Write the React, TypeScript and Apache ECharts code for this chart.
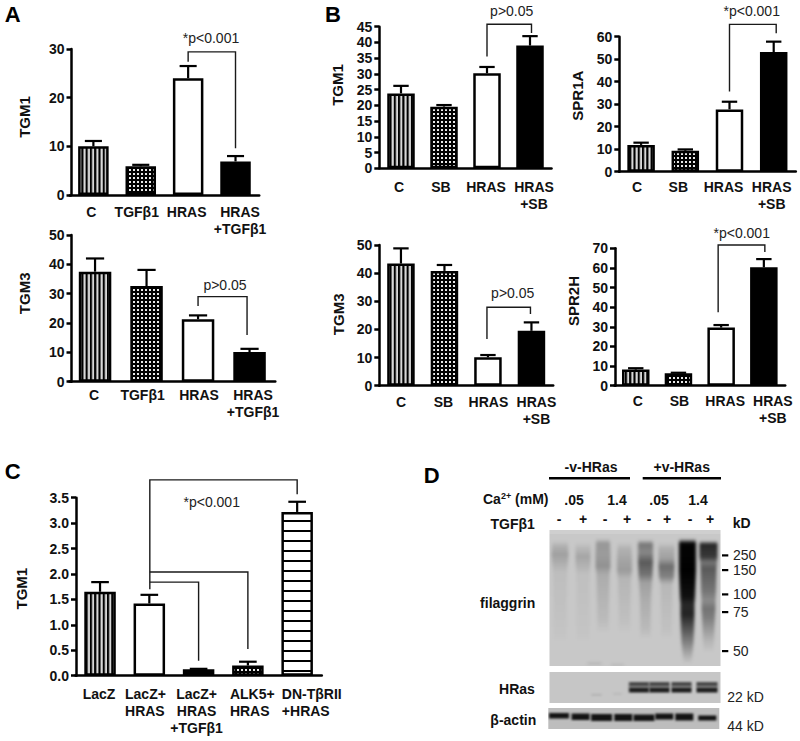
import React, { useEffect, useRef } from "react";
import * as echarts from "echarts";

// ---- data ----
const catsATop = ["C", "TGFβ1", "HRAS", "HRAS\n+TGFβ1"];
const catsB = ["C", "SB", "HRAS", "HRAS\n+SB"];
const catsC = ["LacZ", "LacZ+\nHRAS", "LacZ+\nHRAS\n+TGFβ1", "ALK5+\nHRAS", "DN-TβRII\n+HRAS"];

const aTgm1 = [10, 5.9, 24, 6.9];
const aTgm1Err = [11.1, 6.2, 26.5, 8];
const aTgm3 = [37.5, 32.6, 21.3, 10.1];
const aTgm3Err = [42, 38.1, 22.6, 11.2];
const bTgm1 = [23.8, 19.6, 30.2, 39];
const bTgm1Err = [26.2, 20.1, 32.2, 42];
const bSpr1a = [11.9, 9.3, 27.7, 53.2];
const bSpr1aErr = [12.9, 9.9, 31.1, 57.8];
const bTgm3 = [43.4, 40.8, 10.1, 19.5];
const bTgm3Err = [48.8, 42.9, 10.9, 22.5];
const bSpr2h = [8.2, 6.3, 29.6, 60.3];
const bSpr2hErr = [8.9, 6.6, 30.9, 64.5];
const cTgm1 = [1.65, 1.42, 0.125, 0.2, 3.22];
const cTgm1Err = [1.84, 1.59, 0.135, 0.275, 3.42];

// brackets: [from category, to category, top value, from-leg end value, to-leg end value]
const aTgm1Bracket = [[2, 3, 29.4, 27.4, 9.6]];
const aTgm3Bracket = [[2, 3, 29, 25.8, 15.9]];
const bTgm1Bracket = [[2, 3, 45.8, 35.5, 43]];
const bSpr1aBracket = [[2, 3, 65.5, 35.6, 61.5]];
const bTgm3Bracket = [[2, 3, 27.9, 16.6, 25.5]];
const bSpr2hBracket = [[2, 3, 71.7, 37.4, 68.1]];
const cBracket = [
  [1, 4, 3.85, 1.7, 3.57],
  [1, 3, 2.04, 2.04, 0.525],
  [1, 2, 1.84, 1.84, 0.295],
];

const laneMarks = ["-", "+", "-", "+", "-", "+", "-", "+"];
const kdLabels = ["250", "150", "100", "75", "50"];

// ---- hatch patterns ----
function makeCanvas(w: number, h: number, draw: (c: CanvasRenderingContext2D) => void) {
  const cv = document.createElement("canvas");
  cv.width = w;
  cv.height = h;
  draw(cv.getContext("2d")!);
  return cv;
}
function patterns() {
  const vertical = makeCanvas(4, 4, (c) => {
    c.fillStyle = "#d8d8d8";
    c.fillRect(0, 0, 4, 4);
    c.fillStyle = "#000";
    c.fillRect(0, 0, 2, 4);
  });
  const dots = makeCanvas(4, 4, (c) => {
    c.fillStyle = "#000";
    c.fillRect(0, 0, 4, 4);
    c.fillStyle = "#e8e8e8";
    c.fillRect(1, 1, 2, 2);
  });
  const horizontal = makeCanvas(4, 10, (c) => {
    c.fillStyle = "#fff";
    c.fillRect(0, 0, 4, 10);
    c.fillStyle = "#000";
    c.fillRect(0, 0, 4, 2);
  });
  return {
    v: { image: vertical, repeat: "repeat", scaleX: 1.07 },
    d: { image: dots, repeat: "repeat" },
    h: { image: horizontal, repeat: "repeat", scaleY: 0.96, y: 2 },
    w: "#ffffff",
    k: "#000000",
  } as Record<string, any>;
}

// ---- blot drawing (photographic panels) ----
function blurRects(c: CanvasRenderingContext2D, blur: number, rects: number[][]) {
  c.filter = `blur(${blur}px)`;
  rects.forEach(([x, y, w, h, a]) => {
    c.fillStyle = `rgba(0,0,0,${a})`;
    c.fillRect(x, y, w, h);
  });
  c.filter = "none";
}
// one lane of the film: keyframes are [y in panel px, darkness, width in px]
function lane(c: CanvasRenderingContext2D, cx: number, keys: number[][]) {
  for (let k = 0; k < keys.length - 1; k++) {
    const [y0, a0, w0] = keys[k];
    const [y1, a1, w1] = keys[k + 1];
    for (let y = y0; y < y1; y++) {
      const t = (y - y0) / (y1 - y0);
      const a = a0 + (a1 - a0) * t;
      const w = w0 + (w1 - w0) * t;
      c.fillStyle = `rgba(0,0,0,${a})`;
      c.fillRect(cx - w / 2, y, w, 1);
    }
  }
}
function filaggrinBlot() {
  const layer = makeCanvas(171, 136, (c) => {
    lane(c, 10.5, [[10, 0, 15], [16, 0.12, 16], [24, 0.2, 17], [31, 0.14, 16], [42, 0.05, 14], [100, 0.02, 12], [112, 0, 12]]);
    lane(c, 33.5, [[12, 0, 14], [17, 0.07, 15], [26, 0.17, 15], [32, 0.13, 15], [44, 0.04, 13], [100, 0.02, 12], [112, 0, 12]]);
    lane(c, 53.5, [[8, 0, 13], [13, 0.24, 14], [24, 0.22, 15], [36, 0.27, 15], [44, 0.14, 13], [90, 0.06, 11], [102, 0, 11]]);
    lane(c, 75, [[12, 0, 13], [18, 0.11, 14], [30, 0.18, 15], [40, 0.22, 15], [48, 0.09, 13], [90, 0.04, 11], [102, 0, 11]]);
    lane(c, 96, [[9, 0, 14], [14, 0.4, 15], [22, 0.32, 15], [32, 0.55, 15], [44, 0.42, 14], [52, 0.2, 13], [68, 0.14, 11], [98, 0.07, 10], [108, 0, 10]]);
    lane(c, 117, [[12, 0, 15], [18, 0.12, 16], [28, 0.2, 16], [36, 0.45, 16], [46, 0.35, 15], [54, 0.08, 12], [100, 0.03, 10], [108, 0, 10]]);
    lane(c, 159, [[10, 0, 17], [14, 0.8, 18], [26, 0.72, 18], [32, 0.42, 17], [38, 0.55, 16], [60, 0.42, 15], [70, 0.3, 14], [78, 0.42, 14], [86, 0.38, 13], [110, 0.1, 11], [122, 0, 9]]);
    lane(c, 138, [[8, 0, 16], [13, 0.98, 17], [40, 1, 17], [66, 0.92, 15], [74, 0.8, 14], [84, 0.82, 14], [100, 0.55, 13], [112, 0.35, 12], [122, 0.18, 10], [130, 0.05, 8], [133, 0, 8]]);
    lane(c, 45, [[131, 0, 12], [133, 0.1, 14], [135, 0, 14]]);
    lane(c, 68, [[133, 0, 12], [134, 0.1, 12], [136, 0, 12]]);
  });
  return makeCanvas(171, 136, (c) => {
    c.fillStyle = "#c8c8c8";
    c.fillRect(0, 0, 171, 136);
    c.fillStyle = "#cfcfcf";
    c.fillRect(0, 0, 171, 4);
    c.filter = "blur(1.6px)";
    c.drawImage(layer, 0, 0);
    c.filter = "none";
  });
}
function hrasBlot() {
  return makeCanvas(171, 31, (c) => {
    c.fillStyle = "#c6c6c6";
    c.fillRect(0, 0, 171, 31);
    const cx = [89.5, 110, 132, 157.5];
    const rects: number[][] = [];
    cx.forEach((x, i) => {
      const w = i === 3 ? 21 : 20;
      rects.push([x - w / 2, 10, w, 4, 0.62]);
      rects.push([x - w / 2, 13.5, w, 2, 0.35]);
      rects.push([x - w / 2, 15.5, w, 5, 0.85]);
    });
    rects.push([42, 22, 10, 1.5, 0.12], [64, 21, 8, 1.5, 0.08]);
    blurRects(c, 1.1, rects);
  });
}
function actinBlot() {
  return makeCanvas(171, 21, (c) => {
    c.fillStyle = "#bdbdbd";
    c.fillRect(0, 0, 171, 21);
    const cx = [10.7, 32.3, 53.3, 75, 95.7, 116, 136, 159];
    const ws = [20, 18, 21, 18, 21, 18, 18, 18];
    const ys = [5, 5.5, 6, 6, 6.5, 5.5, 5.5, 7.5];
    const hs = [5.5, 6.5, 7, 7, 6.5, 6, 7, 5];
    blurRects(c, 0.9, cx.map((x, i) => [x - ws[i] / 2, ys[i], ws[i], hs[i], 0.9]));
  });
}

// ---- panel layout ----
const panels = [
  { cats: catsATop, vals: aTgm1, errs: aTgm1Err, br: aTgm1Bracket, fills: ["v", "d", "w", "k"], name: "TGM1", left: 69.7, w: 189.5, top: 49, y0: 195, axisX: 71.5, max: 30, step: 10, bar: 30.5, lab: 8.5, shift: [-2, -4, -1.5, 4.5], nameX: 24, nameDy: 5, nudge: [0, 0] },
  { cats: catsATop, vals: aTgm3, errs: aTgm3Err, br: aTgm3Bracket, fills: ["v", "d", "w", "k"], name: "TGM3", left: 69.3, w: 206, top: 235, y0: 381.7, axisX: 71.5, max: 50, step: 10, bar: 32.5, lab: 5, shift: [-1, -4, 1, 3.5], nameX: 24, nameDy: 15, nudge: [0, -2.5] },
  { cats: catsB, vals: bTgm1, errs: bTgm1Err, br: bTgm1Bracket, fills: ["v", "d", "w", "k"], name: "TGM1", left: 379.5, w: 172, top: 26.7, y0: 168.3, axisX: 379.3, max: 45, step: 5, bar: 27.5, lab: 10, shift: [-2, -3, -1, 4], nameX: 337, nameDy: 12.5, nudge: [0, 1.5] },
  { cats: catsB, vals: bSpr1a, errs: bSpr1aErr, br: bSpr1aBracket, fills: ["v", "d", "w", "k"], name: "SPR1A", left: 619, w: 176.8, top: 36.7, y0: 171.7, axisX: 619.3, max: 60, step: 10, bar: 27.5, lab: 7, shift: [-4, -7, -6, -2], nameX: 577, nameDy: 8.5, nudge: [0, 2.5] },
  { cats: catsB, vals: bTgm3, errs: bTgm3Err, br: bTgm3Bracket, fills: ["v", "d", "w", "k"], name: "TGM3", left: 379.2, w: 174, top: 245, y0: 385.7, axisX: 379.3, max: 50, step: 10, bar: 27.5, lab: 7.5, shift: [0, -1, 0.5, 5], nameX: 338, nameDy: 1, nudge: [-1, -1] },
  { cats: catsB, vals: bSpr2h, errs: bSpr2hErr, br: bSpr2hBracket, fills: ["v", "d", "w", "k"], name: "SPR2H", left: 614.4, w: 170.8, top: 248.3, y0: 385.7, axisX: 615, max: 70, step: 10, bar: 27.5, lab: 6.5, shift: [2, 1, 4, 9], nameX: 573, nameDy: 16, nudge: [-3, 1] },
  { cats: catsC, vals: cTgm1, errs: cTgm1Err, br: cBracket, fills: ["v", "w", "k", "d", "h"], name: "TGM1", left: 75.4, w: 246.4, top: 497.7, y0: 675.7, axisX: 76, max: 3.5, step: 0.5, bar: 31.5, lab: 10, shift: [-1, -4, -2, 4, 15], leftAt: [null, -24.3, null, -18, -15.3], nameX: 21.7, nameDy: -2, nudge: [0.5, 0], dec: 1 },
];

const pLabels = [
  ["*p<0.001", 211, 38],
  ["p>0.05", 225, 285],
  ["p>0.05", 511.7, 10.7],
  ["*p<0.001", 751.7, 11],
  ["p>0.05", 512.7, 293],
  ["*p<0.001", 741.7, 233],
  ["*p<0.001", 211.7, 501.7],
] as [string, number, number][];

const letters = [
  ["A", 12.7, 14],
  ["B", 333, 14],
  ["C", 12.7, 471.7],
  ["D", 431.7, 475],
] as [string, number, number][];

const FONT = '"Liberation Sans", Arial, sans-serif';

function txt(text: string, x: number, y: number, size = 14, weight: any = "bold", align = "center", fill = "#111", extra: any = {}) {
  return { type: "text", x, y, silent: true, style: { text, fontFamily: FONT, fontSize: size, fontWeight: weight, align, verticalAlign: "middle", fill, ...extra } };
}

export default function App() {
  const ref = useRef<HTMLDivElement>(null);
  useEffect(() => {
    const chart = echarts.init(ref.current!, null, { renderer: "svg" });
    const fills = patterns();
    const grid: any[] = [];
    const xAxis: any[] = [];
    const yAxis: any[] = [];
    const series: any[] = [];

    panels.forEach((p: any, i) => {
      grid.push({ left: p.left, top: p.top, width: p.w, height: p.y0 - p.top, containLabel: false });
      xAxis.push({
        type: "category",
        gridIndex: i,
        data: p.cats.map((c: string, k: number) => {
          const at = p.leftAt ? p.leftAt[k] : null;
          if (at != null) return { value: c, textStyle: { align: "left", padding: [0, 0, 0, at] } };
          return {
            value: c,
            textStyle: { padding: p.shift[k] > 0 ? [0, 0, 0, 2 * p.shift[k]] : [0, -2 * p.shift[k], 0, 0] },
          };
        }),
        axisLine: { lineStyle: { color: "#000", width: 2.5 } },
        axisTick: { alignWithLabel: true, length: 5, lineStyle: { color: "#000", width: 2 } },
        axisLabel: { interval: 0, margin: p.lab, fontFamily: FONT, fontSize: 14, fontWeight: "bold", color: "#111", lineHeight: 17, hideOverlap: false },
      });
      yAxis.push({
        type: "value",
        gridIndex: i,
        min: 0,
        max: p.max,
        interval: p.step,
        offset: p.left - p.axisX,
        splitLine: { show: false },
        axisLine: { show: true, lineStyle: { color: "#000", width: 2.5 } },
        axisTick: { show: true, length: 5, lineStyle: { color: "#000", width: 2.5 } },
        axisLabel: {
          margin: 7,
          fontFamily: FONT,
          fontSize: 14,
          fontWeight: "bold",
          color: "#111",
          formatter: (v: number) => (p.dec ? v.toFixed(p.dec) : String(v)),
        },
        name: p.name,
        nameLocation: "middle",
        nameRotate: 90,
        nameGap: p.axisX - p.nameX,
        nameTextStyle: {
          fontFamily: FONT,
          fontSize: 15,
          fontWeight: "bold",
          color: "#111",
          verticalAlign: "middle",
          padding: p.nameDy > 0 ? [0, 0, 0, 2 * p.nameDy] : [0, -2 * p.nameDy, 0, 0],
        },
      });
      series.push({
        type: "bar",
        xAxisIndex: i,
        yAxisIndex: i,
        barWidth: p.bar,
        data: p.vals.map((v: number, k: number) => ({
          value: v,
          itemStyle: { color: fills[p.fills[k]], borderColor: "#000", borderWidth: 2.5 },
        })),
      });
      series.push({
        type: "custom",
        xAxisIndex: i,
        yAxisIndex: i,
        silent: true,
        z: 3,
        data: p.vals.map((v: number, k: number) => [k, v, p.errs[k]]),
        renderItem: (_: any, api: any) => {
          const a = api.coord([api.value(0), api.value(1)]);
          const b = api.coord([api.value(0), api.value(2)]);
          const s = { stroke: "#000", lineWidth: 2.2, fill: "none" };
          const cap = p.bar * 0.56;
          return {
            type: "group",
            children: [
              { type: "line", shape: { x1: a[0], y1: a[1], x2: b[0], y2: b[1] }, style: s },
              { type: "line", shape: { x1: b[0] - cap / 2, y1: b[1], x2: b[0] + cap / 2, y2: b[1] }, style: s },
            ],
          };
        },
      });
      series.push({
        type: "custom",
        xAxisIndex: i,
        yAxisIndex: i,
        silent: true,
        z: 4,
        clip: false,
        data: p.br,
        renderItem: (_: any, api: any) => {
          const top = api.value(2);
          const f = api.coord([api.value(0), top]);
          const t = api.coord([api.value(1), top]);
          const fy = api.coord([api.value(0), api.value(3)])[1];
          const ty = api.coord([api.value(1), api.value(4)])[1];
          const lx = f[0] + p.nudge[0];
          const rx = t[0] + p.nudge[1];
          return {
            type: "polyline",
            shape: { points: [[lx, fy], [lx, f[1]], [rx, f[1]], [rx, ty]] },
            style: { stroke: "#1a1a1a", lineWidth: 1.4, fill: "none" },
          };
        },
      });
    });

    const lanesX = [559, 583, 605, 627, 649, 667, 690, 710];
    const kdY = [555.3, 570, 594.3, 612, 651];
    const graphic: any[] = [
      ...letters.map(([t, x, y]) => txt(t, x, y, 22, "bold", "center", "#000")),
      ...pLabels.map(([t, x, y]) => txt(t, x, y, 14, "normal", "center", "#222")),
      txt("-v-HRas", 591, 466.7),
      txt("+v-HRas", 681.7, 466.7),
      { type: "rect", silent: true, shape: { x: 549, y: 477, width: 81, height: 2.4 }, style: { fill: "#000" } },
      { type: "rect", silent: true, shape: { x: 642.7, y: 477, width: 78.3, height: 2.4 }, style: { fill: "#000" } },
      {
        type: "text",
        silent: true,
        x: 483,
        y: 499,
        style: {
          text: "Ca{sup|2+} (mM)",
          fontFamily: FONT,
          fontSize: 14,
          fontWeight: "bold",
          fill: "#111",
          verticalAlign: "middle",
          rich: {
            sup: { fontFamily: FONT, fontSize: 9, fontWeight: "bold", fill: "#111", verticalAlign: "top", padding: [0, 0, 6, 0] },
          },
        },
      },
      txt(".05", 574, 500),
      txt("1.4", 617, 500),
      txt(".05", 659, 500),
      txt("1.4", 698, 500),
      txt("TGFβ1", 512.7, 524),
      ...laneMarks.map((m, k) => txt(m, lanesX[k], 519.3)),
      txt("kD", 741.7, 522.7),
      txt("filaggrin", 507.7, 602.7),
      txt("HRas", 517, 689.3),
      txt("β-actin", 513.3, 720),
      { type: "image", silent: true, style: { image: filaggrinBlot().toDataURL(), x: 549.5, y: 530, width: 171, height: 136 } },
      { type: "image", silent: true, style: { image: hrasBlot().toDataURL(), x: 549.5, y: 672, width: 171, height: 31 } },
      { type: "image", silent: true, style: { image: actinBlot().toDataURL(), x: 548.3, y: 708, width: 171, height: 21 } },
      ...kdLabels.map((t, k) => ({ type: "rect", silent: true, shape: { x: 722, y: kdY[k] - 1, width: 6.3, height: 2.2 }, style: { fill: "#000" } })),
      ...kdLabels.map((t, k) => txt(t, 733, kdY[k], 14, "normal", "left", "#222")),
      txt("22 kD", 727.3, 696.7, 14, "normal", "left", "#222"),
      txt("44 kD", 727.3, 725.7, 14, "normal", "left", "#222"),
    ];

    chart.setOption({
      animation: false,
      backgroundColor: "#fff",
      grid,
      xAxis,
      yAxis,
      series,
      graphic,
    });
    return () => chart.dispose();
  }, []);
  return <div ref={ref} style={{ position: "absolute", left: 0, top: 0, width: 800, height: 741 }} />;
}
